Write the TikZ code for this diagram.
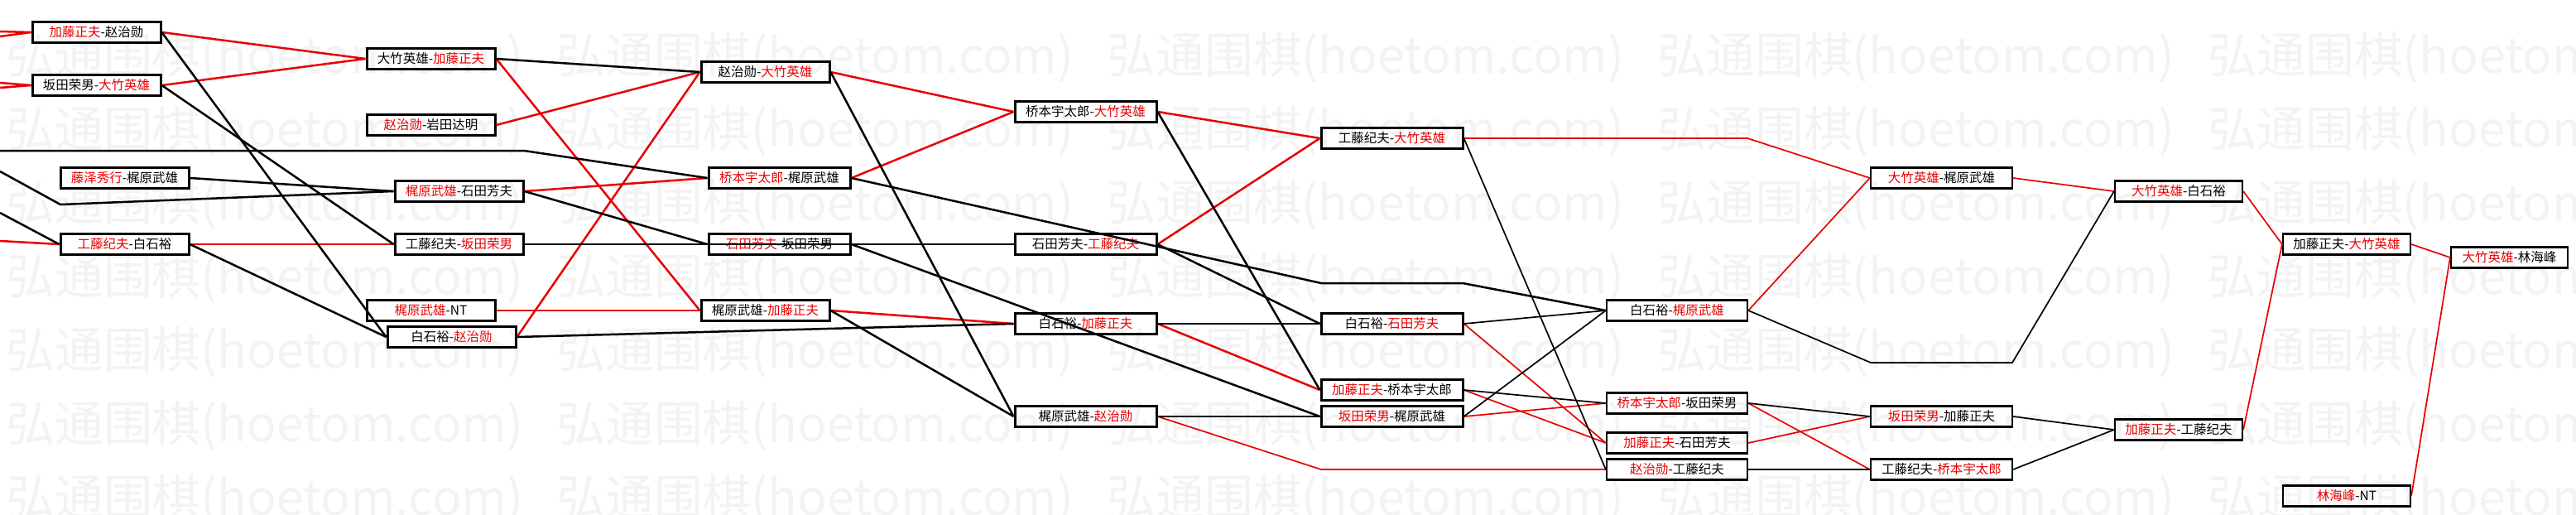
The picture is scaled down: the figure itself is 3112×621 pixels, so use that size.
\documentclass[tikz,border=0pt]{standalone}
\usepackage{fontspec}
\usepackage{graphicx}
\setmainfont{Noto Sans CJK SC}
\newfontfamily\wmfont{Noto Sans CJK SC}
\usetikzlibrary{positioning}
\definecolor{wmgray}{RGB}{243,243,243}
\definecolor{winred}{RGB}{232,0,0}
\newcommand{\rd}[1]{\textcolor{winred}{#1}}

\begin{document}
\begin{tikzpicture}[x=1pt,y=-1pt,
  box/.style={draw=black,line width=3pt,minimum width=155pt,minimum height=25pt,
    inner sep=0pt,font=\fontsize{15.5}{18}\selectfont},
  wide/.style={minimum width=171pt},
  lite/.style={line width=2.2pt},
  rline/.style={draw=winred,line width=2.5pt},
  bline/.style={draw=black,line width=2.5pt},
  fine/.style={line width=1.7pt}
]
\useasboundingbox (0,0) rectangle (3112,621);
\fill[white] (0,0) rectangle (3112,621);
\begin{scope}
\clip (0,0) rectangle (3112,621);
\foreach \r in {0,...,6}{
  \foreach \c in {0,...,4}{
    \node[anchor=west,text=wmgray,inner sep=0pt] (wm\r\c) at ({7+665*\c},{70+89*\r})
      {\resizebox{625pt}{!}{\wmfont 弘通围棋(hoetom.com)}};
  }
}
\end{scope}

\node[box] (a1) at (116.5,39) {\rd{加藤正夫}-赵治勋};
\node[box] (a2) at (116.5,103) {坂田荣男-\rd{大竹英雄}};
\node[box] (a3) at (150.5,215) {\rd{藤泽秀行}-梶原武雄};
\node[box] (a4) at (150.5,295) {\rd{工藤纪夫}-白石裕};

\node[box] (b1) at (520.5,71) {大竹英雄-\rd{加藤正夫}};
\node[box] (b2) at (520.5,151) {\rd{赵治勋}-岩田达明};
\node[box] (b3) at (554.5,231) {\rd{梶原武雄}-石田芳夫};
\node[box] (b4) at (554.5,295) {工藤纪夫-\rd{坂田荣男}};
\node[box] (b5) at (520.5,375) {\rd{梶原武雄}-NT};
\node[box] (b6) at (545.5,407) {白石裕-\rd{赵治勋}};

\node[box] (c1) at (924.5,87) {赵治勋-\rd{大竹英雄}};
\node[box,wide] (c2) at (941.5,215) {\rd{桥本宇太郎}-梶原武雄};
\node[box,wide] (c3) at (941.5,295) {\rd{石田芳夫}-坂田荣男};
\node[box] (c4) at (924.5,375) {梶原武雄-\rd{加藤正夫}};

\node[box,wide] (d1) at (1311.5,135) {桥本宇太郎-\rd{大竹英雄}};
\node[box,wide] (d2) at (1311.5,295) {石田芳夫-\rd{工藤纪夫}};
\node[box,wide] (d3) at (1311.5,391) {白石裕-\rd{加藤正夫}};
\node[box,wide] (d4) at (1311.5,503) {梶原武雄-\rd{赵治勋}};

\node[box,wide] (e1) at (1681.5,167) {工藤纪夫-\rd{大竹英雄}};
\node[box,wide] (e2) at (1681.5,391) {白石裕-\rd{石田芳夫}};
\node[box,wide] (e3) at (1681.5,471) {\rd{加藤正夫}-桥本宇太郎};
\node[box,wide] (e4) at (1681.5,503) {\rd{坂田荣男}-梶原武雄};

\node[box,lite,minimum width=170pt] (f2) at (2026,375) {白石裕-\rd{梶原武雄}};
\node[box,lite,minimum width=170pt] (f3) at (2026,487) {\rd{桥本宇太郎}-坂田荣男};
\node[box,lite,minimum width=170pt] (f4) at (2026,535) {\rd{加藤正夫}-石田芳夫};
\node[box,lite,minimum width=170pt] (f5) at (2026,567) {\rd{赵治勋}-工藤纪夫};

\node[box,lite,wide] (g1) at (2345.5,215) {\rd{大竹英雄}-梶原武雄};
\node[box,lite,wide] (g2) at (2345.5,503) {\rd{坂田荣男}-加藤正夫};
\node[box,lite,wide] (g3) at (2345.5,567) {工藤纪夫-\rd{桥本宇太郎}};

\node[box,lite,minimum width=154pt] (h1) at (2632,231) {\rd{大竹英雄}-白石裕};
\node[box,lite,minimum width=154pt] (h2) at (2632,519) {\rd{加藤正夫}-工藤纪夫};
\node[box,lite,minimum width=154pt] (i1) at (2835,295) {加藤正夫-\rd{大竹英雄}};
\node[box,lite,minimum width=154pt] (i2) at (2835,599) {\rd{林海峰}-NT};
\node[box,lite,minimum width=141pt] (j1) at (3031.5,311) {\rd{大竹英雄}-林海峰};

\coordinate (l1) at (0,38);
\coordinate (l2) at (0,44);
\coordinate (l3) at (0,100);
\coordinate (l4) at (0,106);
\coordinate (l5) at (0,182);
\coordinate (l6) at (0,207);
\coordinate (l7) at (0,257);
\coordinate (l8) at (0,291);
\coordinate (k5) at (633,182);
\coordinate (k6) at (73,247);
\coordinate (kc1) at (1596,342);
\coordinate (kc2) at (1767,342);
\coordinate (kd) at (1596,567);
\coordinate (ke) at (2111,167);
\coordinate (kf1) at (2260,438);
\coordinate (kf2) at (2431,438);

\draw[rline] (l1) -- (a1.west);
\draw[rline] (l2) -- (a1.west);
\draw[rline] (l3) -- (a2.west);
\draw[rline] (l4) -- (a2.west);
\draw[rline] (l8) -- (a4.west);
\draw[rline] (a1.east) -- (b1.west);
\draw[rline] (a2.east) -- (b1.west);
\draw[rline] (a4.east) -- (b4.west);
\draw[rline] (b1.east) -- (c4.west);
\draw[rline] (b2.east) -- (c1.west);
\draw[rline] (b3.east) -- (c2.west);
\draw[rline] (b4.east) -- (c3.west);
\draw[rline] (b5.east) -- (c4.west);
\draw[rline] (b6.east) -- (c1.west);
\draw[rline] (c1.east) -- (d1.west);
\draw[rline] (c2.east) -- (d1.west);
\draw[rline] (c3.east) -- (d2.west);
\draw[rline] (c4.east) -- (d3.west);
\draw[rline] (d1.east) -- (e1.west);
\draw[rline] (d2.east) -- (e1.west);
\draw[rline] (d3.east) -- (e3.west);
\draw[rline,fine] (d4.east) -- (kd) -- (f5.west);
\draw[rline,fine] (e1.east) -- (ke) -- (g1.west);
\draw[rline,fine] (e2.east) -- (f4.west);
\draw[rline,fine] (e3.east) -- (f4.west);
\draw[rline,fine] (e4.east) -- (f3.west);
\draw[rline,fine] (f2.east) -- (g1.west);
\draw[rline,fine] (f3.east) -- (g3.west);
\draw[rline,fine] (f4.east) -- (g2.west);
\draw[rline,fine] (g1.east) -- (h1.west);
\draw[rline,fine] (h1.east) -- (i1.west);
\draw[rline,fine] (h2.east) -- (i1.west);
\draw[rline,fine] (i1.east) -- (j1.west);
\draw[rline,fine] (i2.east) -- (j1.west);

\draw[bline] (l5) -- (k5) -- (c2.west);
\draw[bline] (l6) -- (k6) -- (b3.west);
\draw[bline] (l7) -- (a4.west);
\draw[bline] (a1.east) -- (b6.west);
\draw[bline] (a2.east) -- (b4.west);
\draw[bline] (a3.east) -- (b3.west);
\draw[bline] (a4.east) -- (b6.west);
\draw[bline] (b1.east) -- (c1.west);
\draw[bline] (b3.east) -- (c3.west);
\draw[bline] (b4.east) -- (d2.west);
\draw[bline] (b6.east) -- (d3.west);
\draw[bline] (c1.east) -- (d4.west);
\draw[bline] (c2.east) -- (kc1) -- (kc2) -- (f2.west);
\draw[bline] (c3.east) -- (e4.west);
\draw[bline] (c4.east) -- (d4.west);
\draw[bline] (d1.east) -- (e3.west);
\draw[bline] (d2.east) -- (e2.west);
\draw[bline] (d3.east) -- (e2.west);
\draw[bline] (d4.east) -- (e4.west);
\draw[bline,fine] (e1.east) -- (f5.west);
\draw[bline,fine] (e2.east) -- (f2.west);
\draw[bline,fine] (e3.east) -- (f3.west);
\draw[bline,fine] (e4.east) -- (f2.west);
\draw[bline,fine] (f2.east) -- (kf1) -- (kf2) -- (h1.west);
\draw[bline,fine] (f3.east) -- (g2.west);
\draw[bline,fine] (f5.east) -- (g3.west);
\draw[bline,fine] (g2.east) -- (h2.west);
\draw[bline,fine] (g3.east) -- (h2.west);
\end{tikzpicture}
\end{document}
